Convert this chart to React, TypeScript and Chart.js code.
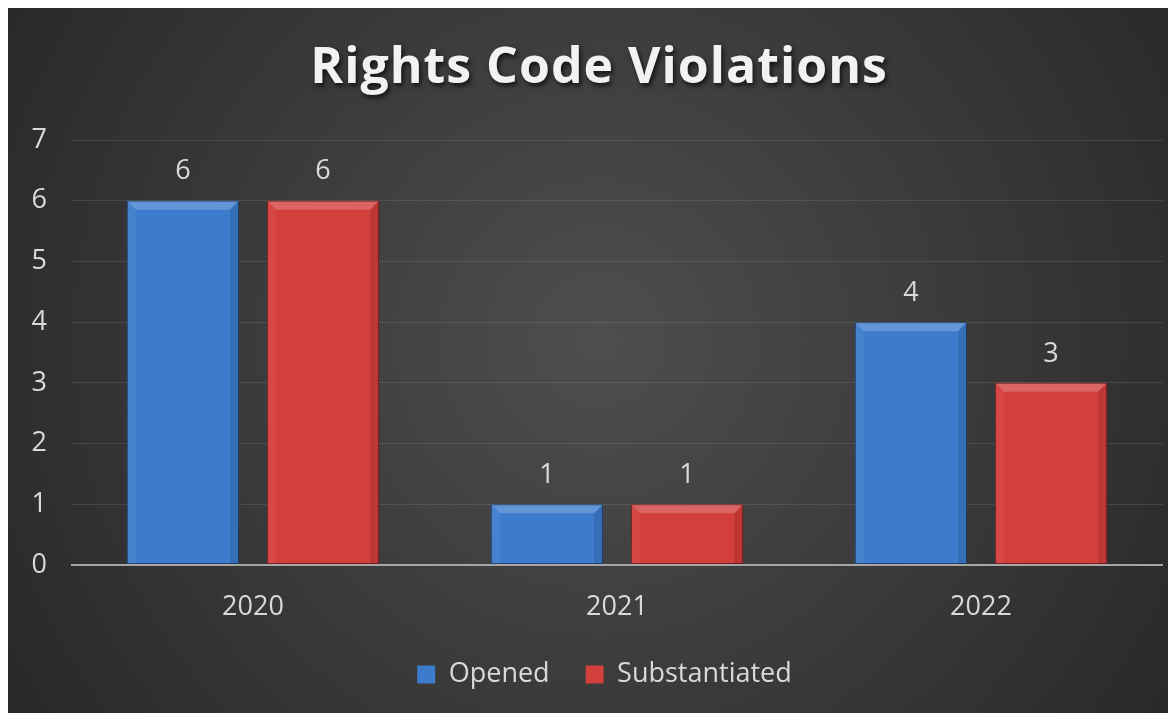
import React, { useEffect, useRef } from "react";
import { Chart, registerables } from "chart.js";
Chart.register(...registerables);

const TITLE = "Rights Code Violations";
const categories = ["2020", "2021", "2022"];
const seriesNames = ["Opened", "Substantiated"];
const opened = [6, 1, 4];
const substantiated = [6, 1, 3];
const yMin = 0;
const yMax = 7;

const FONT = "'Open Sans', sans-serif";
const TEXT = "#d9d9d9";
const BLUE = "#3d7ccc";
const RED = "#d33f3b";

const bgPlugin = {
  id: "bg",
  beforeDraw(chart: any) {
    const { ctx, width, height } = chart;
    ctx.save();
    const g = ctx.createRadialGradient(width * 0.5, height * 0.47, 0, width * 0.5, height * 0.47, width * 0.62);
    g.addColorStop(0, "#4e4e4e");
    g.addColorStop(1, "#262626");
    ctx.fillStyle = g;
    ctx.fillRect(0, 0, width, height);
    ctx.restore();
  },
  afterLayout(chart: any) {
    const lg = chart.legend;
    if (lg) {
      lg.left += 19;
      lg.right += 19;
    }
  },
};

const bevelPlugin = {
  id: "bevel",
  afterDatasetsDraw(chart: any) {
    const { ctx } = chart;
    chart.data.datasets.forEach((ds: any, di: number) => {
      const meta = chart.getDatasetMeta(di);
      meta.data.forEach((el: any, i: number) => {
        const p = el.getProps(["x", "y", "base", "width"], true);
        const l = p.x - p.width / 2;
        const r = p.x + p.width / 2;
        const t = p.y;
        const b = p.base;
        const bv = 9;
        ctx.save();
        ctx.beginPath();
        ctx.moveTo(l, t);
        ctx.lineTo(r, t);
        ctx.lineTo(r - bv, t + bv);
        ctx.lineTo(l + bv, t + bv);
        ctx.closePath();
        ctx.fillStyle = "rgba(255,255,255,0.2)";
        ctx.fill();
        ctx.beginPath();
        ctx.moveTo(l, t);
        ctx.lineTo(l + bv, t + bv);
        ctx.lineTo(l + bv, b);
        ctx.lineTo(l, b);
        ctx.closePath();
        ctx.fillStyle = "rgba(255,255,255,0.05)";
        ctx.fill();
        ctx.beginPath();
        ctx.moveTo(r, t);
        ctx.lineTo(r - bv, t + bv);
        ctx.lineTo(r - bv, b);
        ctx.lineTo(r, b);
        ctx.closePath();
        ctx.fillStyle = "rgba(0,0,0,0.1)";
        ctx.fill();
        ctx.strokeStyle = "rgba(0,0,0,0.45)";
        ctx.lineWidth = 1;
        ctx.strokeRect(l + 0.5, t + 0.5, p.width - 1, b - t - 1);
        ctx.restore();
        ctx.save();
        ctx.font = `27px ${FONT}`;
        ctx.fillStyle = TEXT;
        ctx.textAlign = "center";
        ctx.textBaseline = "middle";
        ctx.fillText(String(ds.data[i]), p.x, t - 29);
        ctx.restore();
      });
    });
  },
  afterDraw(chart: any) {
    const { ctx } = chart;
    ctx.save();
    ctx.font = `bold 50px ${FONT}`;
    (ctx as any).letterSpacing = "1px";
    ctx.fillStyle = "#f2f2f2";
    ctx.textAlign = "center";
    ctx.textBaseline = "middle";
    ctx.shadowColor = "rgba(0,0,0,0.7)";
    ctx.shadowBlur = 5;
    ctx.shadowOffsetX = 2;
    ctx.shadowOffsetY = 3;
    ctx.fillText(TITLE, 591, 61);
    ctx.restore();
  },
};

export default function App() {
  const ref = useRef<HTMLCanvasElement>(null);
  useEffect(() => {
    const chart = new Chart(ref.current as HTMLCanvasElement, {
      type: "bar",
      data: {
        labels: categories,
        datasets: [
          { label: seriesNames[0], data: opened, backgroundColor: BLUE, borderColor: "#1f3f66", borderWidth: 0 },
          { label: seriesNames[1], data: substantiated, backgroundColor: RED, borderColor: "#6b1f1d", borderWidth: 0 },
        ],
      },
      options: {
        animation: false,
        responsive: false,
        maintainAspectRatio: false,
        layout: { padding: { left: 0, right: 27, top: 132, bottom: 15 } },
        datasets: { bar: { categoryPercentage: 0.77, barPercentage: 0.8 } },
        plugins: {
          title: { display: false },
          tooltip: { enabled: false },
          legend: {
            position: "bottom",
            labels: {
              color: TEXT,
              font: { family: FONT, size: 27 },
              boxWidth: 18,
              boxHeight: 18,
              padding: 36,
            },
          },
        },
        scales: {
          x: {
            afterFit: (s: any) => {
              s.height = 60;
            },
            grid: { display: false },
            border: { display: false },
            ticks: { color: TEXT, font: { family: FONT, size: 27 }, padding: 18 },
          },
          y: {
            min: yMin,
            max: yMax,
            afterFit: (s: any) => {
              s.width = 63;
            },
            border: { display: false },
            grid: {
              drawTicks: false,
              color: (c: any) => (c.tick && c.tick.value === 0 ? "#a6a6a6" : "rgba(255,255,255,0.1)"),
              lineWidth: (c: any) => (c.tick && c.tick.value === 0 ? 2 : 1),
            },
            ticks: { stepSize: 1, color: TEXT, font: { family: FONT, size: 27 }, padding: 24 },
          },
        },
      },
      plugins: [bgPlugin, bevelPlugin],
    } as any);
    return () => chart.destroy();
  }, []);
  return (
    <div style={{ width: 1168, height: 705, overflow: "hidden" }}>
      <canvas ref={ref} width={1182} height={705} style={{ display: "block" }} />
    </div>
  );
}
